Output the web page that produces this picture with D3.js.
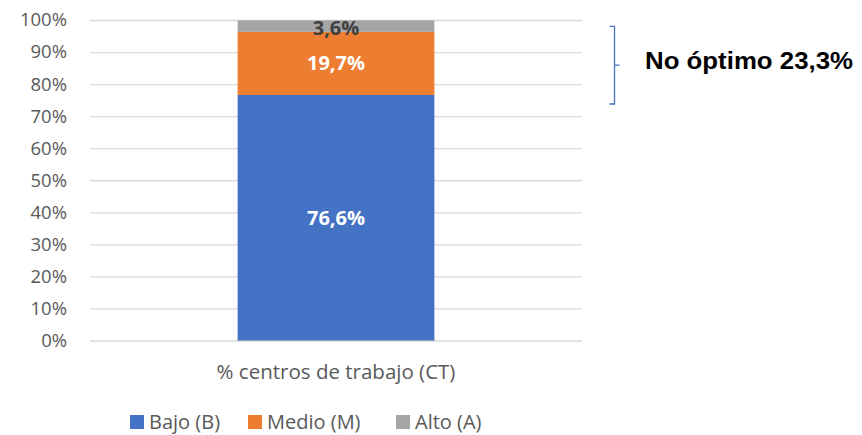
<!DOCTYPE html>
<html>
<head>
<meta charset="utf-8">
<script src="https://cdn.jsdelivr.net/npm/d3@7/dist/d3.min.js"></script>
<style>
  html, body { margin: 0; padding: 0; background: #fff; }
  svg { display: block; }
</style>
</head>
<body>
<svg id="chart" width="862" height="435"></svg>
<script>
// Single stacked column: share of work centres by risk level
const categories = ["% centros de trabajo (CT)"];
const seriesNames = ["Bajo (B)", "Medio (M)", "Alto (A)"];
const seriesKeys = ["bajo", "medio", "alto"];
const bajo = [76.6];
const medio = [19.7];
const alto = [3.6];
const yTicks = [0, 10, 20, 30, 40, 50, 60, 70, 80, 90, 100];
const colors = ["#4472C4", "#ED7D31", "#A5A5A5"];

const rows = categories.map((c, i) => ({ cat: c, bajo: bajo[i], medio: medio[i], alto: alto[i] }));

const svg = d3.select("#chart");
const font = "'Open Sans', sans-serif";

const plot = { left: 90, right: 582, top: 20, bottom: 340.5 };

const x = d3.scaleBand()
  .domain(categories)
  .range([plot.left, plot.right])
  .paddingInner(0.4286)
  .paddingOuter(0.4286);

const y = d3.scaleLinear()
  .domain([0, 100])
  .range([plot.bottom, plot.top]);

// Gridlines and percentage labels
const yAxis = d3.axisLeft(y)
  .tickValues(yTicks)
  .tickSize(-(plot.right - plot.left))
  .tickPadding(23)
  .tickFormat(d => d + "%");

const gAxis = svg.append("g")
  .attr("transform", `translate(${plot.left},0)`)
  .call(yAxis);
gAxis.select(".domain").remove();
gAxis.selectAll(".tick line").attr("stroke", "#d9d9d9").attr("stroke-width", 1.3);
gAxis.selectAll(".tick text")
  .attr("fill", "#595959")
  .style("font-family", font)
  .style("font-size", "18.5px");

// Stacked bar segments
const stack = d3.stack().keys(seriesKeys);
const layers = stack(rows);

svg.append("g")
  .selectAll("g")
  .data(layers)
  .join("g")
  .attr("fill", (d, i) => colors[i])
  .selectAll("rect")
  .data(d => d)
  .join("rect")
  .attr("x", d => x(d.data.cat))
  .attr("width", x.bandwidth())
  .attr("y", d => y(d[1]))
  .attr("height", d => y(d[0]) - y(d[1]));

// Segment value labels
const fmt = v => v.toFixed(1).replace(".", ",") + "%";
const labelColors = ["#ffffff", "#ffffff", "#404040"];
layers.forEach((layer, i) => {
  layer.forEach(d => {
    const v = d[1] - d[0];
    const cy = i === 2 ? y(d[1]) + 8 : (y(d[0]) + y(d[1])) / 2;
    svg.append("text")
      .attr("x", x(d.data.cat) + x.bandwidth() / 2)
      .attr("y", cy)
      .attr("dy", "0.35em")
      .attr("text-anchor", "middle")
      .attr("fill", labelColors[i])
      .style("font-family", font)
      .style("font-weight", "700")
      .style("font-size", "20px")
      .text(fmt(v));
  });
});

// Category label
svg.append("text")
  .attr("x", x(categories[0]) + x.bandwidth() / 2)
  .attr("y", 379)
  .attr("text-anchor", "middle")
  .attr("fill", "#595959")
  .style("font-family", font)
  .style("font-size", "20.5px")
  .text(categories[0]);

// Legend
const legendX = [130, 248, 396];
const legend = svg.append("g");
seriesNames.forEach((name, i) => {
  legend.append("rect")
    .attr("x", legendX[i])
    .attr("y", 415)
    .attr("width", 14)
    .attr("height", 14)
    .attr("fill", colors[i]);
  legend.append("text")
    .attr("x", legendX[i] + 19)
    .attr("y", 428.5)
    .attr("fill", "#595959")
    .style("font-family", font)
    .style("font-size", "20px")
    .text(name);
});

// Bracket grouping the non-optimal levels (Medio + Alto)
const notOptimal = medio[0] + alto[0];
const bx = 614.5;
const bTop = y(bajo[0] + notOptimal) + 6;
const bBot = y(bajo[0]) + 9;
const bMid = (bTop + bBot) / 2;
svg.append("path")
  .attr("d", `M${bx - 5},${bTop} H${bx} V${bBot} H${bx - 5} M${bx},${bMid} H${bx + 5}`)
  .attr("fill", "none")
  .attr("stroke", "#4472C4")
  .attr("stroke-width", 1.3);

svg.append("text")
  .attr("x", 645)
  .attr("y", bMid + 3.5)
  .attr("fill", "#000")
  .attr("textLength", 208)
  .attr("lengthAdjust", "spacingAndGlyphs")
  .style("font-family", "'Liberation Sans', Arial, sans-serif")
  .style("font-weight", "700")
  .style("font-size", "23.5px")
  .text("No óptimo " + fmt(notOptimal));
</script>
</body>
</html>
